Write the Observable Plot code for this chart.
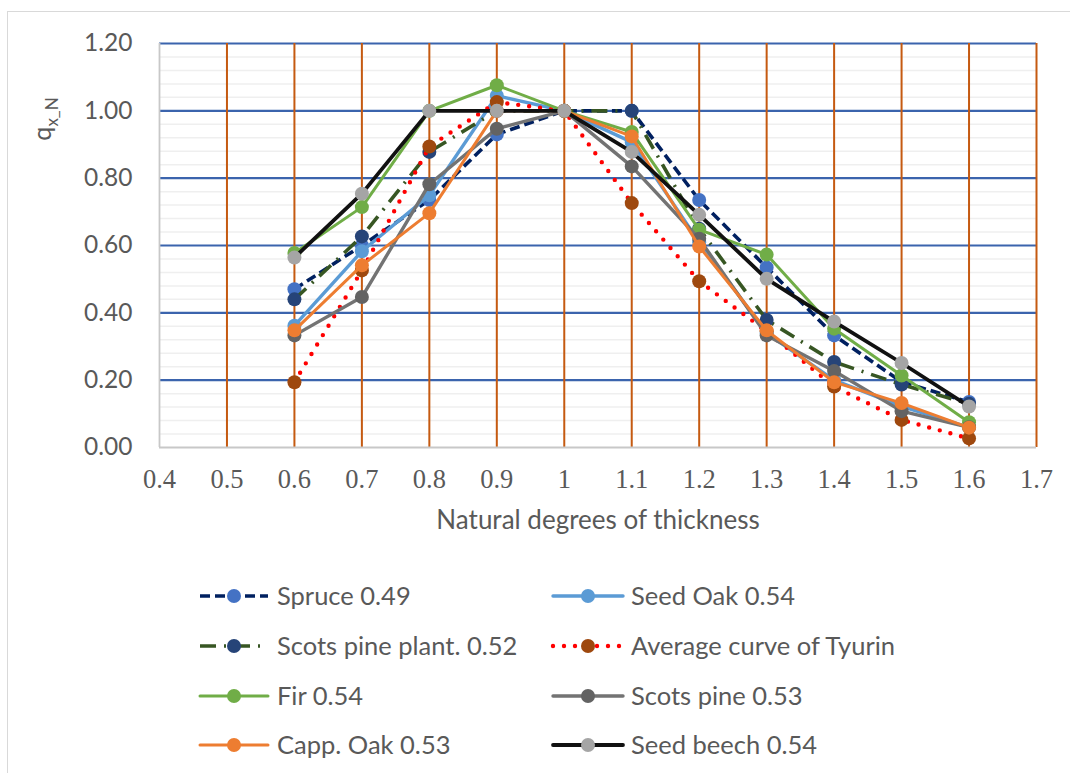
<!DOCTYPE html>
<html>
<head>
<meta charset="utf-8">
<script src="https://cdn.jsdelivr.net/npm/d3@7"></script>
<script src="https://cdn.jsdelivr.net/npm/@observablehq/plot@0.6"></script>
<style>
  body { margin: 0; background: #fff; }
  #wrap { position: relative; width: 1070px; height: 773px; overflow: hidden; background: #fff; }
  #chart { position: absolute; left: 0; top: 0; }
  #legend { position: absolute; left: 0; top: 0; }
  #border { position: absolute; left: 7px; top: 11px; width: 2000px; height: 2000px;
            border-left: 1.5px solid #d9d9d9; border-top: 1.5px solid #d9d9d9; pointer-events: none; }
</style>
</head>
<body>
<div id="wrap">
  <div id="chart"></div>
  <svg id="legend" width="1070" height="773"></svg>
  <div id="border"></div>
</div>
<script>
// ---- data ----
const xValues = [0.6, 0.7, 0.8, 0.9, 1.0, 1.1, 1.2, 1.3, 1.4, 1.5, 1.6];

const spruce         = [0.470, 0.600, 0.735, 0.930, 1.000, 1.000, 0.735, 0.535, 0.333, 0.195, 0.135];
const seedOak        = [0.362, 0.583, 0.749, 1.045, 1.000, 0.907, 0.610, 0.340, 0.200, 0.122, 0.060];
const scotsPinePlant = [0.440, 0.627, 0.878, 1.000, 1.000, 1.000, 0.650, 0.379, 0.254, 0.187, 0.130];
const tyurin         = [0.194, 0.526, 0.894, 1.026, 1.000, 0.726, 0.494, 0.345, 0.181, 0.082, 0.027];
const fir            = [0.578, 0.714, 1.000, 1.076, 1.000, 0.937, 0.647, 0.573, 0.353, 0.214, 0.075];
const scotsPine      = [0.333, 0.447, 0.782, 0.947, 1.000, 0.835, 0.620, 0.333, 0.227, 0.108, 0.060];
const cappOak        = [0.348, 0.541, 0.696, 1.000, 1.000, 0.924, 0.597, 0.348, 0.194, 0.132, 0.059];
const seedBeech      = [0.564, 0.754, 1.000, 1.000, 1.000, 0.878, 0.691, 0.501, 0.374, 0.251, 0.122];

const seriesNames = ["Spruce 0.49", "Seed Oak 0.54", "Scots pine plant. 0.52", "Average curve of Tyurin",
                     "Fir 0.54", "Scots pine 0.53", "Capp. Oak 0.53", "Seed beech 0.54"];
const seriesValues = [spruce, seedOak, scotsPinePlant, tyurin, fir, scotsPine, cappOak, seedBeech];

const xTicks = [0.4, 0.5, 0.6, 0.7, 0.8, 0.9, 1.0, 1.1, 1.2, 1.3, 1.4, 1.5, 1.6, 1.7];
const xTickLabels = ["0.4", "0.5", "0.6", "0.7", "0.8", "0.9", "1", "1.1", "1.2", "1.3", "1.4", "1.5", "1.6", "1.7"];
const yTicks = [0, 0.2, 0.4, 0.6, 0.8, 1.0, 1.2];
const yMinor = [0.04, 0.08, 0.12, 0.16, 0.24, 0.28, 0.32, 0.36, 0.44, 0.48, 0.52, 0.56,
                0.64, 0.68, 0.72, 0.76, 0.84, 0.88, 0.92, 0.96, 1.04, 1.08, 1.12, 1.16];

// ---- styles ----
const lineColors   = ["#002060", "#5B9BD5", "#375623", "#FF0000", "#70AD47", "#737373", "#ED7D31", "#111111"];
const markerColors = ["#4472C4", "#5B9BD5", "#264478", "#9E480E", "#70AD47", "#636363", "#ED7D31", "#A5A5A5"];
const lineWidths   = [3.6, 3.4, 3.6, 4.4, 3.0, 3.4, 3.0, 3.8];
const lineDashes   = ["10,5", null, "16,8,2,8", "0,11", null, null, null, null];
const lineCaps     = ["butt", "round", "butt", "round", "round", "round", "round", "round"];
const markerR = 7;

const FONT = "Lato, 'Open Sans', sans-serif";
const TEXT = "#595959";

const table = seriesNames.flatMap((name, i) =>
  xValues.map((x, j) => ({series: name, idx: i, x, y: seriesValues[i][j]})));

const seriesMarks = seriesNames.flatMap((name, i) => {
  const d = table.filter(r => r.idx === i);
  return [
    Plot.line(d, {x: "x", y: "y", stroke: lineColors[i], strokeWidth: lineWidths[i],
                  strokeDasharray: lineDashes[i] ?? undefined, strokeLinecap: lineCaps[i],
                  strokeLinejoin: "round"}),
    Plot.dot(d, {x: "x", y: "y", r: markerR, fill: markerColors[i], stroke: "none"})
  ];
});

const H = 545;
const chart = Plot.plot({
  width: 1070,
  height: H,
  marginLeft: 159,
  marginRight: 34,
  marginTop: 43,
  marginBottom: H - 447,
  style: {background: "transparent", color: TEXT, overflow: "visible"},
  x: {domain: [0.4, 1.7]},
  y: {domain: [0, 1.2]},
  marks: [
    Plot.ruleY(yMinor, {stroke: "#efefef", strokeWidth: 1.5}),
    Plot.ruleY(yTicks.filter(v => v > 0), {stroke: "#3b64ad", strokeWidth: 2.2}),
    Plot.ruleX(xTicks.filter(v => v > 0.45), {stroke: "#C55A11", strokeWidth: 2}),
    Plot.ruleX([0.4], {stroke: "#c8c8c8", strokeWidth: 1.8}),
    Plot.ruleY([0], {stroke: "#c8c8c8", strokeWidth: 1.8}),
    ...seriesMarks,
    Plot.axisY({ticks: yTicks, tickFormat: d3.format(".2f"), tickSize: 0, tickPadding: 27,
                fontSize: 24.5, fontFamily: FONT, label: null}),
    Plot.axisX({ticks: xTicks, tickFormat: (d, i) => xTickLabels[i], tickSize: 0, tickPadding: 22,
                fontSize: 26.5, fontFamily: "'Liberation Serif', 'Times New Roman', serif", label: null}),
    Plot.text(["Natural degrees of thickness"], {frameAnchor: "bottom", dy: 81, lineAnchor: "bottom",
                fontSize: 26, fontFamily: FONT, fill: TEXT})
  ]
});
document.getElementById("chart").appendChild(chart);

// y-axis title q_x_N
const svgSel = d3.select(chart);
const yt = svgSel.append("text")
  .attr("transform", "translate(51,119) rotate(-90)")
  .attr("text-anchor", "middle")
  .attr("font-family", FONT)
  .attr("font-size", 25)
  .attr("fill", TEXT);
yt.append("tspan").text("q");
yt.append("tspan").attr("dy", 7).attr("font-size", 17).text("x_N");

// ---- legend ----
const leg = d3.select("#legend");
const colX = [{l0: 200, l1: 268, tx: 277}, {l0: 553, l1: 623, tx: 631}];
const rowY = [596, 646, 696, 745];
seriesNames.forEach((name, i) => {
  const c = colX[i % 2], y = rowY[Math.floor(i / 2)];
  const g = leg.append("g");
  g.append("line").attr("x1", c.l0).attr("x2", c.l1).attr("y1", y).attr("y2", y)
    .attr("stroke", lineColors[i]).attr("stroke-width", lineWidths[i])
    .attr("stroke-dasharray", lineDashes[i]).attr("stroke-linecap", lineCaps[i]);
  g.append("circle").attr("cx", (c.l0 + c.l1) / 2).attr("cy", y).attr("r", markerR).attr("fill", markerColors[i]);
  g.append("text").attr("x", c.tx).attr("y", y + 9).attr("font-family", FONT).attr("font-size", 25.5)
    .attr("fill", TEXT).text(name);
});
</script>
</body>
</html>
